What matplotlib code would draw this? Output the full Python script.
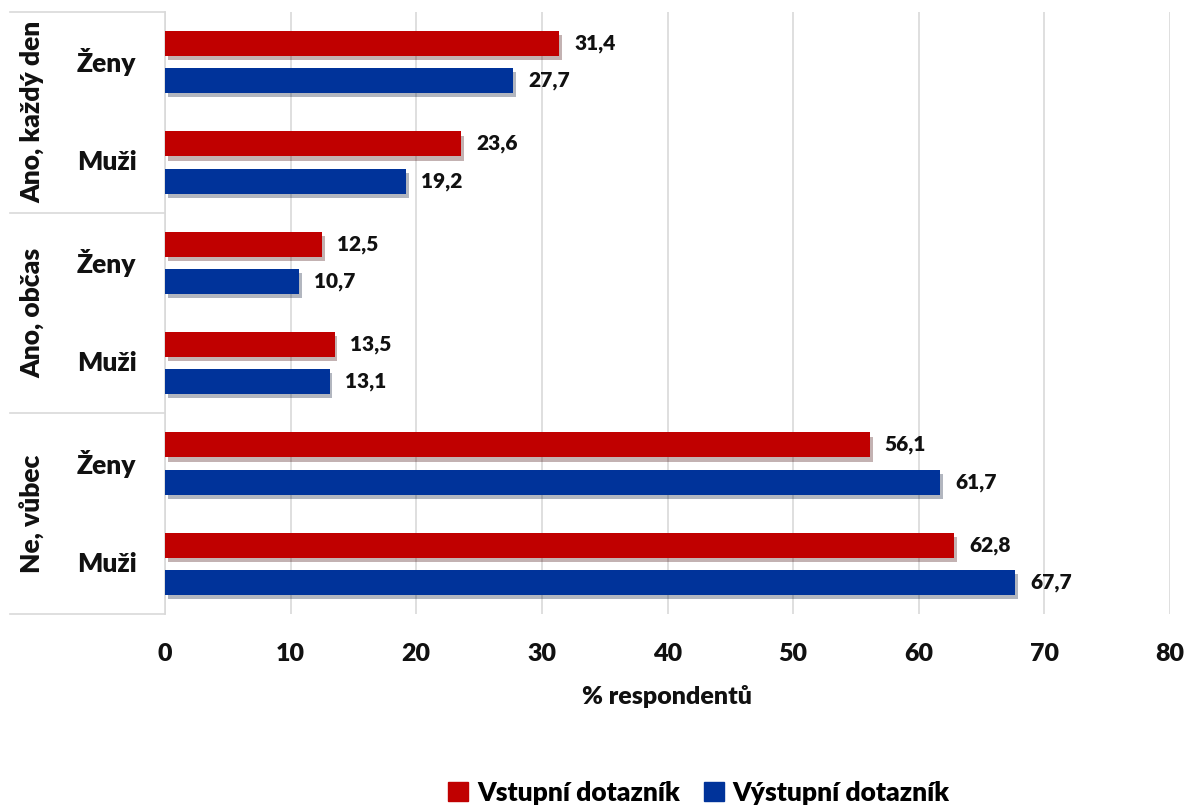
import matplotlib
matplotlib.use("Agg")
import numpy as np
import matplotlib.pyplot as plt
import matplotlib.patheffects as pe
from matplotlib.patches import Patch

plt.rcParams["font.family"] = ["Lato", "DejaVu Sans"]
plt.rcParams["font.weight"] = "bold"

# data
groups = ["Ano, každý den", "Ano, občas", "Ne, vůbec"]
genders = ["Ženy", "Muži"]
vstupni = [31.4, 23.6, 12.5, 13.5, 56.1, 62.8]
vystupni = [27.7, 19.2, 10.7, 13.1, 61.7, 67.7]
series_names = ["Vstupní dotazník", "Výstupní dotazník"]
xticks = [0, 10, 20, 30, 40, 50, 60, 70, 80]

RED = "#C00000"
BLUE = "#00339A"
GRID = "#d9d9d9"
TXT = "#111111"

fig = plt.figure(figsize=(11.88, 8.09), dpi=100)
ax = fig.add_axes([165 / 1188, 1 - 614 / 809, 1005 / 1188, 602 / 809])

y = np.arange(len(vstupni))
off = 0.185
h = 0.25

shadow = [pe.SimplePatchShadow(offset=(2, -3), alpha=0.3), pe.Normal()]

bars1 = ax.barh(y - off, vstupni, height=h, color=RED, zorder=3)
bars2 = ax.barh(y + off, vystupni, height=h, color=BLUE, zorder=3)
for b in list(bars1) + list(bars2):
    b.set_path_effects(shadow)

for yy, v in zip(y - off, vstupni):
    ax.text(v + 1.2, yy, f"{v:.1f}".replace(".", ","), va="center",
            ha="left", fontsize=15, fontweight="heavy", color=TXT)
for yy, v in zip(y + off, vystupni):
    ax.text(v + 1.2, yy, f"{v:.1f}".replace(".", ","), va="center",
            ha="left", fontsize=15, fontweight="heavy", color=TXT)

ax.set_xlim(0, 80)
ax.set_ylim(5.5, -0.5)
ax.set_xticks(xticks)
ax.set_xticklabels([str(t) for t in xticks], fontsize=18, fontweight="heavy",
                   color=TXT)
ax.tick_params(axis="x", length=0, pad=21)
ax.set_yticks([])
ax.grid(axis="x", color=GRID, linewidth=1.2, zorder=0)
for s in ["top", "right", "bottom"]:
    ax.spines[s].set_visible(False)
ax.spines["left"].set_color(GRID)
ax.spines["left"].set_linewidth(1.2)

ax.set_xlabel("% respondentů", fontsize=18, fontweight="heavy", color=TXT,
              labelpad=14)

# category labels on the left
tr = ax.get_yaxis_transform()
for i, yy in enumerate(y):
    ax.text(-0.058, yy, genders[i % 2], transform=tr, ha="center",
            va="center", fontsize=19, fontweight="heavy", color=TXT)
for gi, g in enumerate(groups):
    ax.text(-0.132, 2 * gi + 0.5, g, transform=tr, ha="center",
            va="center", rotation=90, fontsize=19, fontweight="heavy",
            color=TXT)
for yb in [-0.5, 1.5, 3.5, 5.5]:
    ax.plot([-0.154, 0], [yb, yb], transform=tr, color=GRID,
            linewidth=1.2, clip_on=False)

handles = [Patch(color=RED), Patch(color=BLUE)]
fig.legend(handles, series_names, loc="center", ncol=2,
           bbox_to_anchor=(699 / 1188, 1 - 793 / 809), frameon=False,
           prop={"size": 19, "weight": "heavy"}, handlelength=0.75,
           handleheight=0.75, handletextpad=0.35, columnspacing=0.9)

fig.savefig("out.png", dpi=100)
